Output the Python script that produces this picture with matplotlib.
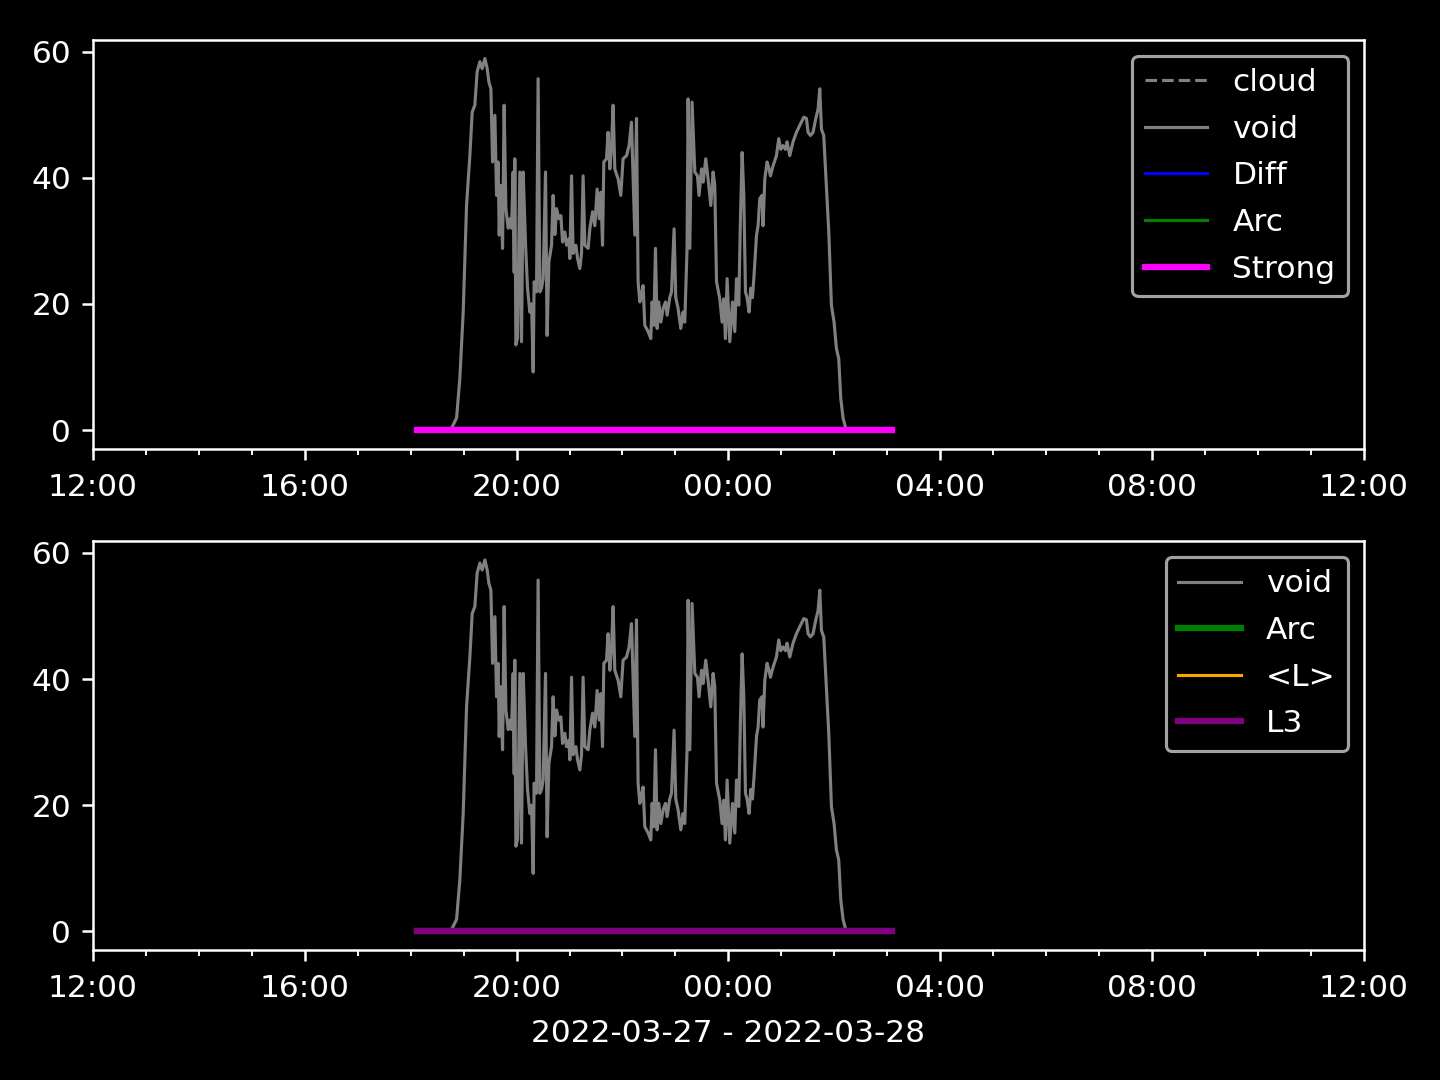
import matplotlib
matplotlib.use("Agg")
import matplotlib.pyplot as plt
import matplotlib.dates as mdates
import numpy as np
import pandas as pd

plt.style.use("dark_background")

# ---- data ----
x_start = "2022-03-27 12:00"
x_end = "2022-03-28 12:00"
ref_time = "2022-03-27 18:00"

# void series: minutes after 18:00 and value
void_minutes = [
    44.4, 46.3, 52.0, 55.7, 59.5, 63.3, 67.1, 69.7, 72.7, 75.3, 78.4, 81.0, 84.1, 86.7,
    88.6, 90.9, 92.8, 95.4, 97.3, 99.1, 100.3, 102.2, 104.1, 105.9, 107.9, 110.5, 112.4,
    114.3, 116.1, 117.3, 118.0, 119.2, 121.1, 123.7, 125.6, 127.5, 130.2, 132.4, 135.0,
    137.0, 138.8, 139.9, 142.6, 144.4, 146.4, 148.3, 150.1, 152.8, 154.6, 156.6, 159.6,
    161.4, 163.4, 165.3, 167.9, 170.2, 172.1, 174.7, 176.6, 179.2, 180.4, 182.3, 184.1,
    187.2, 189.1, 191.7, 193.6, 195.4, 197.4, 201.1, 203.0, 206.1, 208.7, 211.3, 213.6,
    215.5, 217.4, 218.9, 221.9, 223.7, 225.7, 227.6, 229.4, 231.3, 235.1, 238.1, 240.7,
    244.6, 247.5, 250.2, 252.1, 254.0, 255.9, 257.7, 259.7, 261.6, 263.4, 265.3, 269.1,
    272.1, 273.6, 275.5, 277.4, 279.3, 281.2, 283.5, 286.1, 288.8, 290.6, 293.6, 295.6,
    298.5, 300.4, 303.0, 306.1, 308.7, 310.6, 313.2, 314.4, 316.3, 318.9, 322.0, 325.0,
    326.8, 329.6, 331.4, 334.4, 337.0, 340.1, 342.7, 344.6, 346.6, 350.3, 352.9, 354.8,
    356.7, 358.6, 361.6, 364.7, 367.3, 369.2, 371.8, 373.7, 375.6, 377.5, 379.4, 381.2,
    383.5, 385.4, 387.3, 389.1, 391.9, 393.7, 395.6, 398.2, 399.3, 401.3, 403.9, 406.1,
    407.7, 410.7, 414.5, 417.1, 419.4, 422.0, 424.7, 426.5, 429.6, 433.3, 437.2, 440.9,
    445.5, 448.5, 450.3, 453.0, 456.0, 459.1, 461.7, 463.6, 465.5, 468.1, 471.2, 473.8,
    476.8, 479.8, 482.5, 485.1, 487.4, 490.0, 493.0, 495.3,
]
void_values = [
    0.0, 0.3, 1.9, 8.2, 18.7, 35.6, 43.6, 50.4, 51.5, 56.8, 58.4, 57.3, 58.9, 57.3,
    55.2, 54.1, 42.5, 49.9, 37.2, 42.5, 30.9, 38.8, 28.8, 51.5, 35.1, 32.0, 33.5,
    32.0, 40.9, 25.0, 43.0, 13.5, 14.6, 40.9, 14.0, 40.9, 29.3, 22.5, 18.7,
    20.0, 9.2, 23.5, 21.9, 55.7, 21.9, 22.5, 24.0, 40.9, 15.0, 26.6, 29.3,
    37.2, 31.0, 35.1, 33.5, 34.0, 29.8, 31.4, 29.3, 30.3, 27.2, 40.3, 28.0,
    29.3, 27.2, 25.6, 28.0, 40.3, 29.3, 28.8, 31.9, 34.6, 32.4, 38.2, 33.5,
    37.7, 29.3, 42.5, 43.0, 47.2, 41.4, 45.0, 51.5, 41.4, 39.8, 37.2, 43.0,
    43.5, 45.1, 48.8, 39.8, 30.9, 49.4, 23.5, 20.3, 21.5, 22.9, 16.6, 15.6,
    14.5, 20.3, 16.6, 28.8, 16.1, 20.3, 17.1, 19.3, 20.3, 18.2, 21.0, 21.9,
    31.9, 21.0, 19.3, 16.1, 18.7, 17.1, 28.8, 52.5, 28.8, 52.0, 40.9, 40.3,
    37.2, 41.4, 39.3, 43.0, 39.8, 35.6, 40.9, 38.8, 23.5, 20.8, 17.1, 20.8,
    14.5, 24.0, 14.0, 20.3, 15.6, 24.0, 19.8, 33.5, 44.0, 37.2, 21.9, 21.0,
    18.7, 22.5, 21.0, 24.5, 30.9, 32.4, 36.7, 37.2, 32.4, 39.8, 42.5, 41.4,
    40.3, 41.9, 43.5, 46.2, 44.5, 45.1, 44.5, 45.7, 43.5, 45.7, 47.2, 48.3,
    49.6, 49.4, 47.2, 46.7, 47.2, 49.4, 50.9, 54.1, 47.7, 46.7, 38.2, 31.4,
    19.8, 17.1, 12.9, 11.3, 5.0, 1.9, 0.3, 0.0,
]

# flat series (all zero) spanning the detection window
flat_start = "2022-03-27 18:07"
flat_end = "2022-03-28 03:05"
flat_values = [0.0, 0.0]

top_labels = ["cloud", "void", "Diff", "Arc", "Strong"]
bottom_labels = ["void", "Arc", "<L>", "L3"]
xlabel_text = "2022-03-27 - 2022-03-28"

# ---- build ----
ref = pd.Timestamp(ref_time)
void_t = [ref + pd.Timedelta(minutes=m) for m in void_minutes]
flat_t = [pd.Timestamp(flat_start), pd.Timestamp(flat_end)]

fig, (ax1, ax2) = plt.subplots(2, 1, figsize=(6.4, 4.8), dpi=225)
fig.subplots_adjust(left=0.0646, right=0.947, top=0.963, bottom=0.1204, hspace=0.227)

ax1.plot(flat_t, flat_values, color="grey", ls="--", lw=1, label=top_labels[0])
ax1.plot(void_t, void_values, color="grey", lw=1, label=top_labels[1])
ax1.plot(flat_t, flat_values, color="blue", lw=1, label=top_labels[2])
ax1.plot(flat_t, flat_values, color="green", lw=1, label=top_labels[3])
ax1.plot(flat_t, flat_values, color="magenta", lw=2, label=top_labels[4])

ax2.plot(void_t, void_values, color="grey", lw=1, label=bottom_labels[0])
ax2.plot(flat_t, flat_values, color="green", lw=2, label=bottom_labels[1])
ax2.plot(flat_t, flat_values, color="orange", lw=1, label=bottom_labels[2])
ax2.plot(flat_t, flat_values, color="purple", lw=2, label=bottom_labels[3])

for ax in (ax1, ax2):
    ax.set_xlim(pd.Timestamp(x_start), pd.Timestamp(x_end))
    ax.xaxis.set_major_locator(mdates.HourLocator(byhour=[0, 4, 8, 12, 16, 20]))
    ax.xaxis.set_minor_locator(mdates.HourLocator())
    ax.xaxis.set_major_formatter(mdates.DateFormatter("%H:%M"))
    ax.tick_params(axis="x", which="major", pad=4.2)
    ax.set_yticks([0, 20, 40, 60])
    ax.legend(loc="upper right", labelspacing=0.565)

ax2.set_xlabel(xlabel_text, labelpad=5.2)

fig.savefig("out.png", dpi=225)
